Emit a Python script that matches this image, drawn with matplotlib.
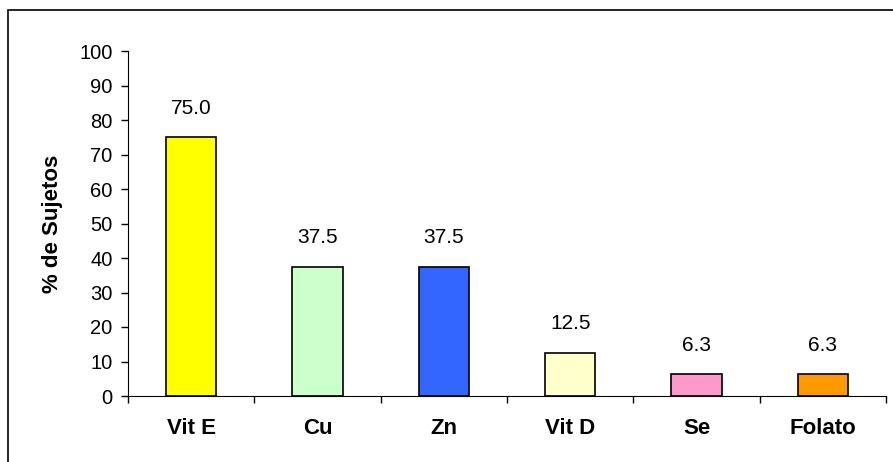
import numpy as np
import matplotlib.pyplot as plt
from matplotlib.patches import Rectangle

plt.rcParams['font.family'] = ['Liberation Sans', 'DejaVu Sans']

# nutrient deficiency percentages
nutrients = ['Vit E', 'Cu', 'Zn', 'Vit D', 'Se', 'Folato']
percent = [75.0, 37.5, 37.5, 12.5, 6.3, 6.3]
bar_colors = ['#FFFF00', '#CCFFCC', '#3366FF', '#FFFFCC', '#FF99CC', '#FF9900']

fig = plt.figure(figsize=(8.93, 4.62), dpi=100)
ax = fig.add_axes([128 / 893, 66 / 462, 758 / 893, 345 / 462])

# chart area frame, runs off the right and bottom edges
fig.patches.append(Rectangle((8 / 893, -0.05), 1.0, 1.05 - 10 / 462,
                             transform=fig.transFigure, fill=False,
                             edgecolor='black', linewidth=1.2))

x = np.arange(len(nutrients))
bars = ax.bar(x, percent, width=0.4, color=bar_colors, edgecolor='black', linewidth=1.2)

for b, v in zip(bars, percent):
    ax.annotate(f'{v:.1f}', (b.get_x() + b.get_width() / 2, v),
                xytext=(0, 14), textcoords='offset points',
                ha='center', va='bottom', fontsize=15)

ax.set_xlim(-0.5, len(nutrients) - 0.5)
ax.set_ylim(0, 100)
ax.set_yticks(range(0, 101, 10))
ax.tick_params(axis='y', labelsize=14.5, length=5, width=1, direction='out', pad=6)

# category ticks sit between the bars, labels centred under them
ax.set_xticks(np.arange(-0.5, len(nutrients), 1.0))
ax.set_xticklabels([])
ax.set_xticks(x, minor=True)
ax.set_xticklabels(nutrients, minor=True, fontsize=16, fontweight='bold')
ax.tick_params(axis='x', which='major', length=5, width=1, direction='out')
ax.tick_params(axis='x', which='minor', length=0, pad=16)

ax.spines['top'].set_visible(False)
ax.spines['right'].set_visible(False)
ax.set_ylabel('% de Sujetos', fontsize=16, fontweight='bold', labelpad=12)

fig.savefig('out.png', dpi=100)
